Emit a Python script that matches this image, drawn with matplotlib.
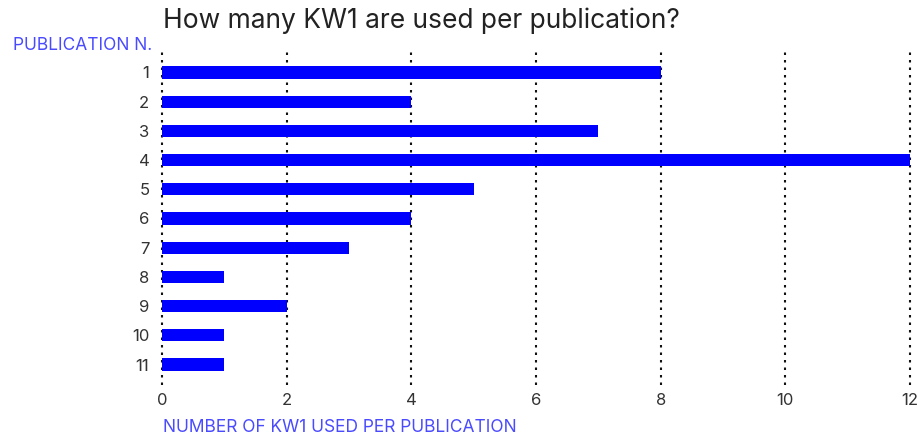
import matplotlib
matplotlib.use("Agg")
import matplotlib.pyplot as plt

publications = ["1", "2", "3", "4", "5", "6", "7", "8", "9", "10", "11"]
kw1_counts = [8, 4, 7, 12, 5, 4, 3, 1, 2, 1, 1]
x_ticks = [0, 2, 4, 6, 8, 10, 12]

plt.rcParams['font.family'] = ['Inter', 'DejaVu Sans']

fig = plt.figure(figsize=(9.18, 4.37), dpi=100)
ax = fig.add_axes([162/918, 1-385/437, (910-162)/918, (385-52)/437])

pos = list(range(1, len(publications) + 1))
ax.barh(pos, kw1_counts, height=0.42, color="#0000ff", zorder=3)

ax.set_xlim(0, 12)
ax.set_ylim(11.7, 0.3)
ax.set_yticks(pos)
ax.set_yticklabels(publications)
ax.set_xticks(x_ticks)
ax.set_xticklabels([str(t) for t in x_ticks])

for t in x_ticks:
    ax.axvline(t, color="#111111", linestyle=(0, (1.2, 2.4)), linewidth=1.5, zorder=2, clip_on=False)

for s in ax.spines.values():
    s.set_visible(False)
ax.tick_params(axis='both', length=0, labelsize=12, labelcolor="#333333")
ax.tick_params(axis='y', pad=9)
ax.tick_params(axis='x', pad=6)

fig.text(163/918, 1-21/437, "How many KW1 are used per publication?", fontsize=19,
         color="#222222", va="center", ha="left")
fig.text(152/918, 1-46/437, "PUBLICATION N.", fontsize=12.5, color="#4a4aff",
         va="center", ha="right")
fig.text(163/918, 1-428/437, "NUMBER OF KW1 USED PER PUBLICATION", fontsize=12.5,
         color="#4a4aff", va="center", ha="left")

fig.savefig("out.png", dpi=100)
